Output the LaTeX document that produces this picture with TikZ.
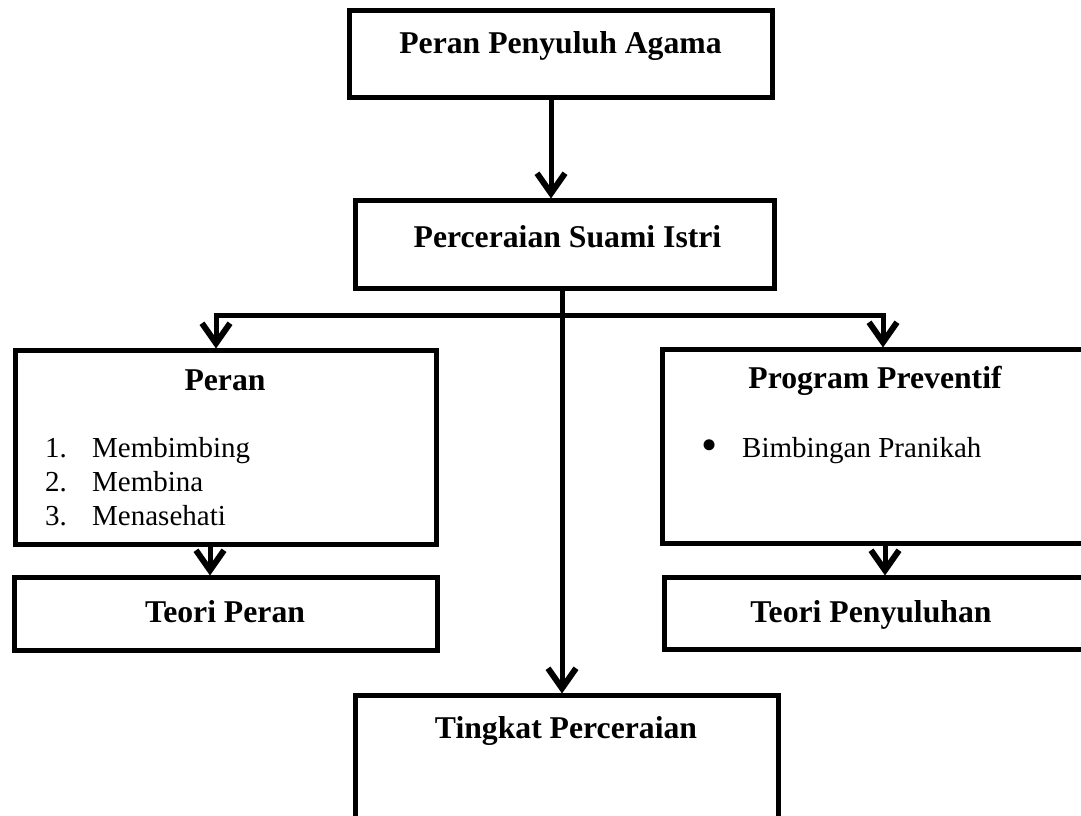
\documentclass[tikz,border=0pt]{standalone}
\usepackage{fontspec}
\setmainfont{Liberation Serif}
\usetikzlibrary{arrows.meta,calc}
\begin{document}
\begin{tikzpicture}[x=1pt,y=-1pt,
  box/.style={draw, line width=5pt, rectangle, inner sep=0pt, outer sep=0pt},
  ttl/.style={font=\fontsize{31.7}{38}\selectfont\bfseries, anchor=base, inner sep=0pt},
  itm/.style={font=\fontsize{29}{34}\selectfont, anchor=base west, inner sep=0pt},
  arr/.style={line width=5pt, -{Straight Barb[length=20pt,width=28pt,line width=6pt]}, shorten >=2pt}]
\useasboundingbox (0,0) rectangle (1081,816);
\clip (0,0) rectangle (1081,816);
% boxes
\node[box, minimum width=423pt, minimum height=87pt] (top) at (560.5,54) {};
\node[box, minimum width=419pt, minimum height=87.5pt] (box2) at (565,244.25) {};
\node[box, minimum width=421pt, minimum height=194pt] (peran) at (226,447.5) {};
\node[box, minimum width=423pt, minimum height=73pt] (teoriperan) at (226,614) {};
\node[box, minimum width=432.5pt, minimum height=194pt] (program) at (878.75,446.5) {};
\node[box, minimum width=430.5pt, minimum height=72pt] (teoripenyuluhan) at (879.75,613.5) {};
\node[box, minimum width=423.5pt, minimum height=124.5pt] (tingkat) at (566.75,757.75) {};
% connectors
\coordinate (x1) at (551,0);
\coordinate (x2) at (562,0);
\coordinate (jn) at (562,315.5);
\coordinate (xl) at (216,0);
\coordinate (xr) at (883,0);
\coordinate (xl2) at (210,0);
\coordinate (xr2) at (885,0);
\draw[arr] (top.south -| x1) -- (box2.north -| x1);
\draw[arr] (box2.south -| x2) -- (tingkat.north -| x2);
\draw[arr] (jn) -| (peran.north -| xl);
\draw[arr] (jn) -| (program.north -| xr);
\draw[arr] (peran.south -| xl2) -- (teoriperan.north -| xl2);
\draw[arr] (program.south -| xr2) -- (teoripenyuluhan.north -| xr2);
% texts
\node[ttl] (t1) at (560.5,53) {Peran Penyuluh Agama};
\node[ttl] (t2) at (567.5,247) {Perceraian Suami Istri};
\node[ttl] (t3) at (225,390) {Peran};
\node[ttl] (t4) at (875,388) {Program Preventif};
\node[ttl] (t5) at (225,622) {Teori Peran};
\node[ttl] (t6) at (871,622) {Teori Penyuluhan};
\node[ttl] (t7) at (566,738) {Tingkat Perceraian};
\node[itm] (n1) at (45,457) {1.};
\node[itm] (i1) at (92,457) {Membimbing};
\node[itm] (n2) at (45,491) {2.};
\node[itm] (i2) at (92,491) {Membina};
\node[itm] (n3) at (45,525) {3.};
\node[itm] (i3) at (92,525) {Menasehati};
\node[font=\fontsize{46}{50}\selectfont, inner sep=0pt, anchor=center] (b1) at (710,450) {•};
\node[itm] (i4) at (742,457) {Bimbingan Pranikah};
\end{tikzpicture}
\end{document}
